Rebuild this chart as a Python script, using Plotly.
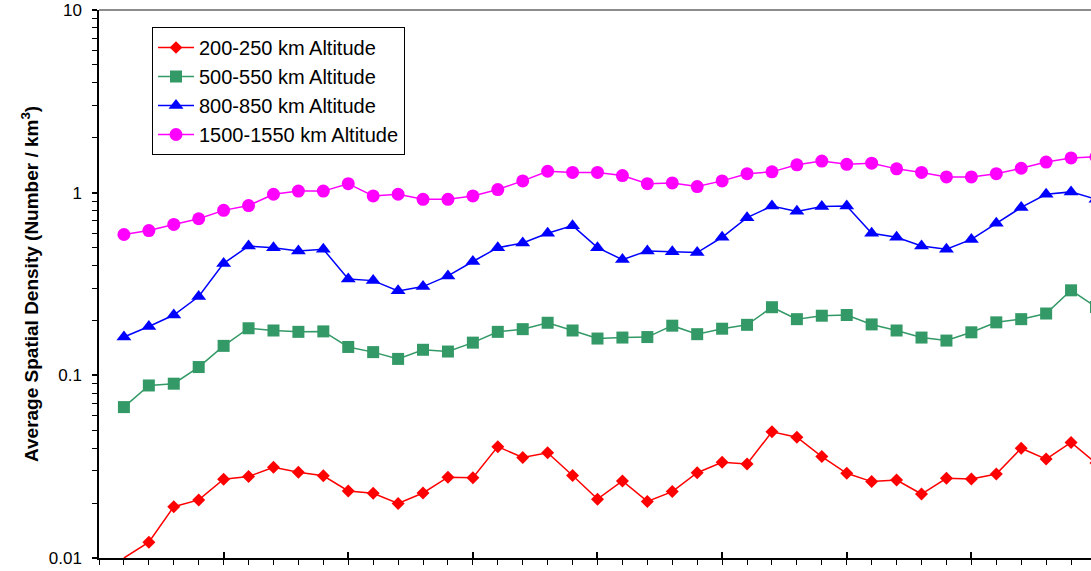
import plotly.graph_objects as go

# Sample index along the horizontal axis (one point per interval)
steps = list(range(1, 41))

# Average spatial density (objects per km^3) for each altitude band
dens_200_250 = [0.010, 0.0122, 0.0191, 0.0208, 0.0270, 0.0279, 0.0314, 0.0295, 0.0282, 0.0233,
                0.0226, 0.0199, 0.0227, 0.0277, 0.0275, 0.0407, 0.0355, 0.0377, 0.0283, 0.0210,
                0.0264, 0.0204, 0.0231, 0.0293, 0.0334, 0.0327, 0.0491, 0.0458, 0.0359, 0.0291,
                0.0262, 0.0267, 0.0224, 0.0273, 0.0271, 0.0288, 0.0399, 0.0348, 0.0429, 0.0331]
dens_500_550 = [0.067, 0.088, 0.090, 0.111, 0.145, 0.181, 0.176, 0.173, 0.174, 0.143,
                0.134, 0.123, 0.138, 0.135, 0.151, 0.173, 0.179, 0.194, 0.176, 0.159,
                0.161, 0.162, 0.187, 0.168, 0.180, 0.189, 0.236, 0.203, 0.212, 0.214,
                0.190, 0.176, 0.161, 0.155, 0.172, 0.195, 0.203, 0.218, 0.292, 0.237]
dens_800_850 = [0.162, 0.185, 0.214, 0.270, 0.41, 0.51, 0.50, 0.48, 0.49, 0.337,
                0.330, 0.290, 0.306, 0.350, 0.42, 0.50, 0.53, 0.60, 0.66, 0.50,
                0.43, 0.48, 0.475, 0.47, 0.57, 0.73, 0.845, 0.79, 0.84, 0.845,
                0.60, 0.57, 0.51, 0.49, 0.555, 0.68, 0.83, 0.98, 1.01, 0.92]
dens_1500_1550 = [0.59, 0.62, 0.67, 0.72, 0.80, 0.85, 0.98, 1.02, 1.02, 1.12,
                  0.96, 0.98, 0.92, 0.92, 0.96, 1.04, 1.16, 1.31, 1.29, 1.29,
                  1.24, 1.12, 1.13, 1.08, 1.16, 1.27, 1.30, 1.42, 1.49, 1.43,
                  1.45, 1.35, 1.29, 1.22, 1.22, 1.27, 1.36, 1.47, 1.55, 1.57]

series_names = ["200-250 km Altitude", "500-550 km Altitude",
                "800-850 km Altitude", "1500-1550 km Altitude"]

Y_FLOOR = 0.01
FONT = "Liberation Sans, Arial, sans-serif"

styles = [
    dict(color="#FF0000", symbol="diamond", size=10),
    dict(color="#339966", symbol="square", size=12),
    dict(color="#0000FF", symbol="triangle-up", size=13),
    dict(color="#FF00FF", symbol="circle", size=13),
]

fig = go.Figure()
for name, vals, st in zip(series_names,
                          [dens_200_250, dens_500_550, dens_800_850, dens_1500_1550],
                          styles):
    # points sitting on the axis floor are drawn without a marker
    sizes = [0 if v <= Y_FLOOR else st["size"] for v in vals]
    fig.add_trace(go.Scatter(
        x=steps, y=vals, name=name, mode="lines+markers",
        line=dict(color=st["color"], width=1.5),
        marker=dict(symbol=st["symbol"], size=sizes, color=st["color"],
                    opacity=1, line=dict(width=0)),
    ))

minor_vals = [m * 10 ** e for e in (-2, -1, 0) for m in range(2, 10)]

fig.update_layout(
    width=1091, height=571,
    margin=dict(l=99, r=0, t=10, b=13),
    paper_bgcolor="white", plot_bgcolor="white",
    font=dict(family=FONT, color="black"),
    showlegend=True,
    legend=dict(
        x=(152 - 99) / 992, y=(558 - 27) / 548, xanchor="left", yanchor="top",
        bgcolor="white", bordercolor="black", borderwidth=1,
        itemwidth=36,
        font=dict(family=FONT, size=20, color="black"),
    ),
    xaxis=dict(
        range=[0, 39.8], showgrid=False, zeroline=False,
        showline=True, linecolor="black", linewidth=1.5,
        tick0=0, dtick=1, ticks="outside", ticklen=5, tickwidth=1, tickcolor="black",
        showticklabels=False,
    ),
    xaxis2=dict(
        range=[0, 39.8], overlaying="x", anchor="y", side="bottom",
        showgrid=False, zeroline=False, showline=False,
        tick0=0, dtick=5, ticks="inside", ticklen=6, tickwidth=1.5, tickcolor="black",
        showticklabels=False,
    ),
    yaxis=dict(
        type="log", range=[-2, 1], showgrid=False, zeroline=False,
        showline=True, linecolor="black", linewidth=1.5,
        tickvals=[0.01, 0.1, 1, 10], ticktext=["0.01", "0.1", "1", "10"],
        ticks="outside", ticklen=5, tickwidth=1.5, tickcolor="black",
        ticklabelstandoff=7,
        tickfont=dict(family=FONT, size=17, color="black"),
        minor=dict(tickvals=minor_vals, ticks="outside", ticklen=5,
                   tickwidth=1, tickcolor="black", showgrid=False),
    ),
    shapes=[dict(type="line", xref="paper", yref="paper", x0=0, x1=1, y0=1, y1=1,
                 line=dict(color="#8c8c8c", width=2))],
    annotations=[dict(
        text="<b>Average Spatial Density (Number / km<sup>3</sup>)</b>",
        xref="paper", yref="paper", x=0, y=0.5, xshift=-69,
        xanchor="center", yanchor="middle", textangle=-90, showarrow=False,
        font=dict(family=FONT, size=19, color="black"),
    )],
)

# empty trace to activate the secondary x axis carrying the major tick marks
fig.add_trace(go.Scatter(x=[], y=[], xaxis="x2", showlegend=False, hoverinfo="skip"))

fig.write_html("out.html")
